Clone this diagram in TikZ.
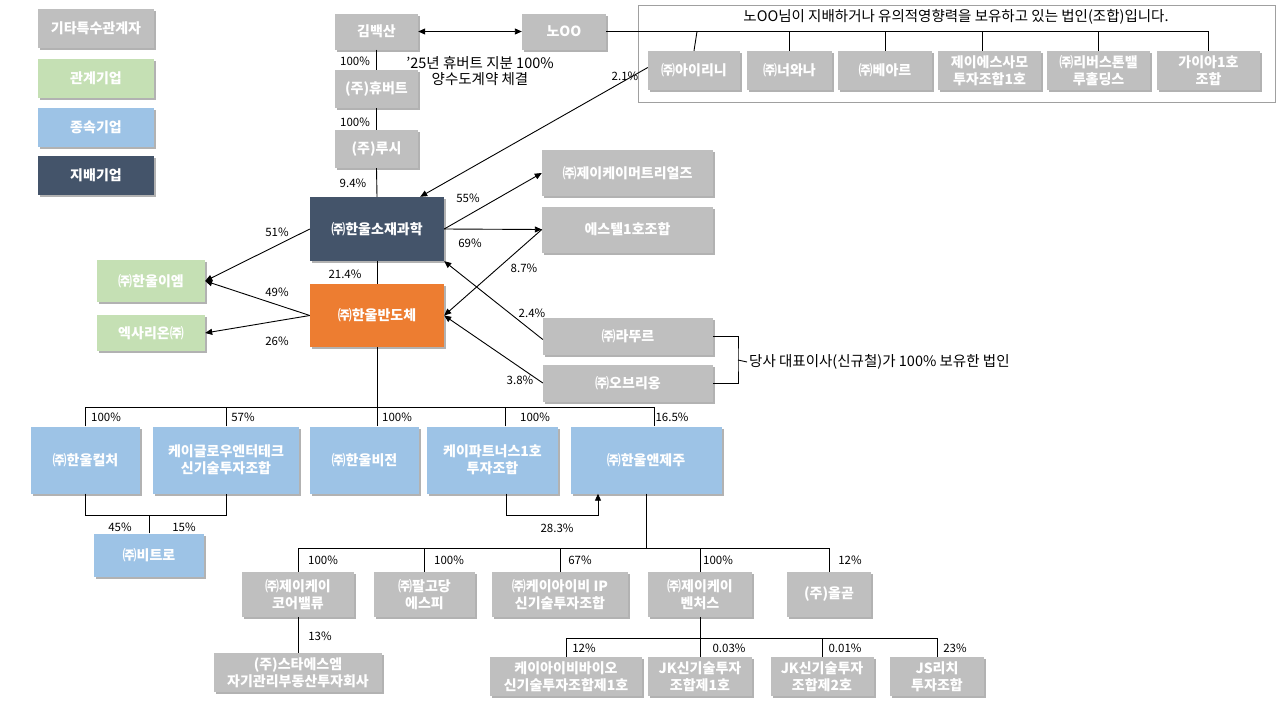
\documentclass[tikz,border=0pt]{standalone}
\usepackage{fontspec}
\setmainfont{Noto Sans CJK KR}
\usetikzlibrary{arrows.meta,shadows,calc}
\definecolor{cgray}{HTML}{BFBFBF}
\definecolor{cgreen}{HTML}{C5E0B4}
\definecolor{cblue}{HTML}{9DC3E6}
\definecolor{cnavy}{HTML}{44546A}
\definecolor{corange}{HTML}{ED7D31}
\definecolor{cframe}{HTML}{A0A0A0}
\tikzset{
  box/.style={rectangle, inner sep=1pt, align=center, text=white,
    font=\bfseries\fontsize{14}{17}\selectfont,
    drop shadow={shadow xshift=2pt, shadow yshift=-2pt, opacity=0.3, fill=black}},
  gbox/.style={box, fill=cgray},
  grbox/.style={box, fill=cgreen},
  bbox/.style={box, fill=cblue},
  nbox/.style={box, fill=cnavy},
  obox/.style={box, fill=corange},
  bw/.style={minimum width=#1},
  bh/.style={minimum height=#1},
  lbl/.style={font=\fontsize{11.5}{13}\selectfont, inner sep=0pt},
  txt/.style={font=\fontsize{14.5}{16}\selectfont, inner sep=0pt, align=center},
  ln/.style={draw=black, line width=0.9pt},
  arr/.style={ln, -{Triangle[length=7pt,width=6pt]}},
}
\begin{document}
\begin{tikzpicture}[x=1pt,y=-1pt]
\useasboundingbox (0,0) rectangle (1280,720);

% legend
\node[gbox, bw=116, bh=39] (lg1) at (96,28.5) {기타특수관계자};
\node[grbox, bw=116, bh=39] (lg2) at (96,78.5) {관계기업};
\node[bbox, bw=116, bh=39] (lg3) at (96,127) {종속기업};
\node[nbox, bw=116, bh=39] (lg4) at (96,175) {지배기업};

% top group frame
\node[draw=cframe, line width=0.9pt, minimum width=637, minimum height=97, inner sep=0] (grp) at (956.5,53.5) {};
\node[txt] (grptitle) at (956,17) {노OO님이 지배하거나 유의적영향력을 보유하고 있는 법인(조합)입니다.};
\node[gbox, bw=92, bh=39] (iri) at (694,70.5) {㈜아이리니};
\node[gbox, bw=85, bh=39] (nwa) at (789.5,70.5) {㈜너와나};
\node[gbox, bw=94, bh=39] (bea) at (885,70.5) {㈜베아르};
\node[gbox, bw=103, bh=39] (jes) at (989.5,70.5) {제이에스사모\\투자조합1호};
\node[gbox, bw=103, bh=39] (riv) at (1098.5,70.5) {㈜리버스톤밸\\루홀딩스};
\node[gbox, bw=103, bh=39] (gaia) at (1208.5,70.5) {가이아1호\\조합};

% top chain
\node[gbox, bw=83, bh=36] (kim) at (376.5,31.5) {김백산};
\node[gbox, bw=84, bh=36] (no) at (564,31.5) {노OO};
\node[gbox, bw=83, bh=38] (hub) at (376.5,89) {(주)휴버트};
\node[gbox, bw=83, bh=38] (lucy) at (376.5,149) {(주)루시};
\node[nbox, bw=134, bh=64] (sojae) at (377,229) {㈜한울소재과학};
\node[obox, bw=134, bh=63] (bando) at (377,315.5) {㈜한울반도체};

% left
\node[grbox, bw=108, bh=42] (em) at (151,281) {㈜한울이엠};
\node[grbox, bw=108, bh=36] (exa) at (151,333) {엑사리온㈜};

% right
\node[gbox, bw=171, bh=46] (jkm) at (627.5,173) {㈜제이케이머트리얼즈};
\node[gbox, bw=171, bh=46] (est) at (627.5,229.5) {에스텔1호조합};
\node[gbox, bw=170, bh=37] (latour) at (628,336.5) {㈜라뚜르};
\node[gbox, bw=170, bh=37] (obr) at (628,383) {㈜오브리옹};
\node[txt, anchor=west, inner sep=2pt] (note) at (747,362) {당사 대표이사(신규철)가 100\% 보유한 법인};

% level 2
\node[bbox, bw=109, bh=67] (cult) at (85.5,460) {㈜한울컬처};
\node[bbox, bw=146, bh=67] (kglow) at (226,460) {케이글로우엔터테크\\신기술투자조합};
\node[bbox, bw=109, bh=67] (vision) at (364.5,460) {㈜한울비전};
\node[bbox, bw=131, bh=67] (kpart) at (492.5,460) {케이파트너스1호\\투자조합};
\node[bbox, bw=151, bh=67] (jeju) at (646,460) {㈜한울앤제주};
\node[bbox, bw=110, bh=43] (vitro) at (149,555) {㈜비트로};

% level 3
\node[gbox, bw=112, bh=45] (core) at (298,594.5) {㈜제이케이\\코어밸류};
\node[gbox, bw=101, bh=45] (palgo) at (424.5,594.5) {㈜팔고당\\에스피};
\node[gbox, bw=136, bh=45] (kib) at (560,594.5) {㈜케이아이비 IP\\신기술투자조합};
\node[gbox, bw=104, bh=45] (ventures) at (700,594.5) {㈜제이케이\\벤처스};
\node[gbox, bw=84, bh=45] (olgot) at (829,594.5) {(주)올곧};
\node[gbox, bw=168, bh=39] (star) at (298,672.5) {(주)스타에스엠\\자기관리부동산투자회사};

% level 4
\node[gbox, bw=152, bh=39] (kibbio) at (566,676.5) {케이아이비바이오\\신기술투자조합제1호};
\node[gbox, bw=104, bh=39] (jk1) at (700,676.5) {JK신기술투자\\조합제1호};
\node[gbox, bw=103, bh=39] (jk2) at (822,676.5) {JK신기술투자\\조합제2호};
\node[gbox, bw=94, bh=39] (jsrich) at (937,676.5) {JS리치\\투자조합};

% ---- connectors: top
\draw[ln, {Triangle[length=7pt,width=6pt]}-{Triangle[length=7pt,width=6pt]}] (kim.east) -- (no.west);
\draw[ln] (kim.south) -- (hub.north);
\draw[ln] (hub.south) -- (lucy.north);
\draw[ln] (lucy.south) -- (sojae.north);
\draw[ln] (sojae.south) -- (bando.north);
\draw[ln] (no.east) -- (gaia.north |- no.east) -- (gaia.north);
\coordinate (iritop) at ($(iri.north |- no.east)+(3,0)$);
\coordinate (jestop) at ($(jes.north |- no.east)+(-7,0)$);
\coordinate (jesbot) at ($(jes.north)+(-7,0)$);
\draw[ln] (iritop) -- (iri.north);
\draw[ln] (nwa.north |- no.east) -- (nwa.north);
\draw[ln] (bea.north |- no.east) -- (bea.north);
\draw[ln] (jestop) -- (jesbot);
\draw[ln] (riv.north |- no.east) -- (riv.north);
\draw[arr] ($(iri.west)+(0,-3)$) -- ($(sojae.north east)+(-24,0)$);

% middle
\draw[arr] (sojae.east) -- (jkm.west);
\draw[arr] (sojae.east) -- (est.west);
\draw[arr] (est.west) -- (bando.east);
\draw[arr] ($(latour.west)+(0,3)$) -- (sojae.south east);
\draw[arr] (obr.west) -- (bando.east);
\draw[arr] (sojae.west) -- (em.east);
\draw[arr] (bando.west) -- (em.east);
\draw[arr] (bando.west) -- (exa.east);
\coordinate (br) at (738,360);
\draw[ln] (latour.east) -| (br) |- (obr.east);
\draw[ln] (br) -- (note.west);

% level 2 tree
\coordinate (bar1) at (377,407);
\coordinate (d4) at ($(kpart.north)+(13,0)$);
\coordinate (d5) at ($(jeju.north)+(8,0)$);
\draw[ln] (cult.north) |- (d5 |- bar1) -- (d5);
\draw[ln] (kglow.north) -- (kglow.north |- bar1);
\draw[ln] (bando.south) -- (bando.south |- vision.north);
\draw[ln] (d4) -- (d4 |- bar1);
\draw[ln] (cult.south) -- ++(0,22) -| (kglow.south);
\draw[ln] (vitro.north) -- ++(0,-18);
\draw[arr] ($(kpart.south)+(14,0)$) -- ++(0,22) -| ($(jeju.south)+(-48,0)$);

% level 3 tree
\coordinate (bar3) at (646,548);
\draw[ln] (jeju.south) -- (bar3);
\draw[ln] (core.north) |- (olgot.north |- bar3) -- (olgot.north);
\draw[ln] (palgo.north) -- (palgo.north |- bar3);
\draw[ln] (kib.north) -- (kib.north |- bar3);
\draw[ln] (ventures.north) -- (ventures.north |- bar3);
\draw[ln] (core.south) -- (star.north);

% level 4 tree
\coordinate (bar4) at (700,638);
\draw[ln] (ventures.south) -- (jk1.north);
\draw[ln] (kibbio.north) |- (jsrich.north |- bar4) -- (jsrich.north);
\draw[ln] (jk2.north) -- (jk2.north |- bar4);

% ---- labels
\node[lbl] (l1) at (355,61) {100\%};
\node[txt] (l2) at (480,71) {'25년 휴버트 지분 100\%\\양수도계약 체결};
\node[lbl] (l3) at (355,122) {100\%};
\node[lbl] (l4) at (353,183) {9.4\%};
\node[lbl] (l5) at (345,274) {21.4\%};
\node[lbl] (l6) at (625,76) {2.1\%};
\node[lbl] (l7) at (468,198) {55\%};
\node[lbl] (l8) at (470,243) {69\%};
\node[lbl] (l9) at (524,268) {8.7\%};
\node[lbl] (l10) at (532,313) {2.4\%};
\node[lbl] (l11) at (520,380) {3.8\%};
\node[lbl] (l12) at (277,232) {51\%};
\node[lbl] (l13) at (277,292) {49\%};
\node[lbl] (l14) at (277,341) {26\%};
\node[lbl] (l15) at (106,417) {100\%};
\node[lbl] (l16) at (243,417) {57\%};
\node[lbl] (l17) at (397,417) {100\%};
\node[lbl] (l18) at (535,417) {100\%};
\node[lbl] (l19) at (672,417) {16.5\%};
\node[lbl] (l20) at (120,527) {45\%};
\node[lbl] (l21) at (184,527) {15\%};
\node[lbl] (l22) at (557,528) {28.3\%};
\node[lbl] (l23) at (323,560) {100\%};
\node[lbl] (l24) at (449,560) {100\%};
\node[lbl] (l25) at (580,560) {67\%};
\node[lbl] (l26) at (718,560) {100\%};
\node[lbl] (l27) at (850,560) {12\%};
\node[lbl] (l28) at (320,636) {13\%};
\node[lbl] (l29) at (584,648) {12\%};
\node[lbl] (l30) at (729,648) {0.03\%};
\node[lbl] (l31) at (845,648) {0.01\%};
\node[lbl] (l32) at (955,648) {23\%};
\end{tikzpicture}
\end{document}
